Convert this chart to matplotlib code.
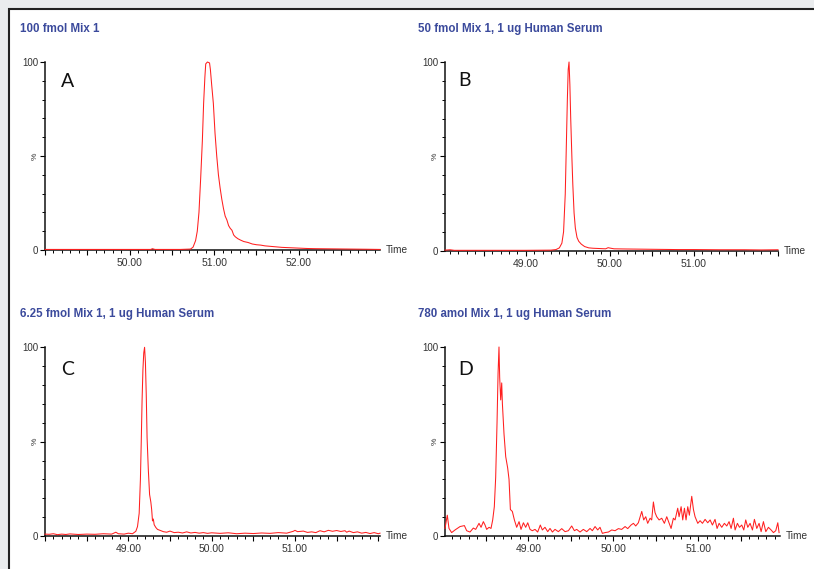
import matplotlib
matplotlib.use("Agg")
import matplotlib.pyplot as plt
from matplotlib.patches import Rectangle
from matplotlib.ticker import MultipleLocator, FixedLocator, FuncFormatter

# canvas size in pixels
W, H = 814, 569

titles = [
    "100 fmol Mix 1",
    "50 fmol Mix 1, 1 ug Human Serum",
    "6.25 fmol Mix 1, 1 ug Human Serum",
    "780 amol Mix 1, 1 ug Human Serum",
]
letters = ["A", "B", "C", "D"]
time_ranges = [(49.0, 52.96), (48.04, 52.0), (48.0, 52.02), (48.02, 51.96)]

# chromatogram A: retention time (min) / relative intensity (%)
a_time = [49.00, 49.50, 50.00, 50.25, 50.27, 50.30, 50.60, 50.72, 50.75, 50.78,
          50.80, 50.82, 50.84, 50.86, 50.875, 50.89, 50.90, 50.92, 50.945, 50.955,
          50.97, 50.99, 51.01, 51.03, 51.05, 51.07, 51.09, 51.11, 51.13, 51.15,
          51.17, 51.19, 51.21, 51.23, 51.25, 51.28, 51.31, 51.35, 51.40, 51.45,
          51.50, 51.55, 51.60, 51.70, 51.80, 51.90, 52.00, 52.10, 52.20, 52.40,
          52.60, 52.80, 52.96]
a_pct = [0.3, 0.3, 0.3, 0.3, 0.7, 0.3, 0.3, 0.5, 1.5, 5,
         10, 20, 38, 58, 78, 92, 99, 100, 99.5, 96,
         88, 78, 62, 50, 40, 33, 27, 22, 18, 16,
         13, 11.5, 10.5, 8, 7, 6, 5.3, 4.5, 4, 3.2,
         2.8, 2.6, 2.2, 1.8, 1.4, 1.2, 1.0, 0.8, 0.7, 0.6,
         0.5, 0.4, 0.3]

# chromatogram B
b_time = [48.04, 48.10, 48.15, 48.50, 49.00, 49.30, 49.36, 49.40, 49.43, 49.45,
          49.47, 49.48, 49.495, 49.505, 49.515, 49.525, 49.535, 49.55, 49.56, 49.575,
          49.59, 49.61, 49.63, 49.66, 49.70, 49.75, 49.80, 49.90, 49.95, 49.98,
          50.00, 50.05, 50.20, 50.40, 50.60, 50.80, 51.00, 51.30, 51.60, 51.80,
          52.00]
b_pct = [0.3, 0.5, 0.2, 0.2, 0.2, 0.3, 0.6, 1.5, 4, 10,
         30, 50, 80, 96, 100, 88, 70, 48, 35, 20,
         12, 7, 5, 3.5, 2.2, 1.5, 1.3, 1.1, 1.0, 1.6,
         1.4, 1.0, 0.9, 0.8, 0.7, 0.6, 0.6, 0.5, 0.5, 0.4,
         0.5]

# chromatogram C
c_time = [48.00, 48.05, 48.10, 48.15, 48.20, 48.25, 48.30, 48.40, 48.50, 48.60,
          48.70, 48.80, 48.85, 48.88, 48.95, 49.00, 49.05, 49.09, 49.11, 49.13,
          49.145, 49.155, 49.165, 49.175, 49.185, 49.195, 49.205, 49.215, 49.225, 49.24,
          49.255, 49.27, 49.28, 49.29, 49.30, 49.31, 49.33, 49.35, 49.38, 49.42,
          49.46, 49.50, 49.55, 49.60, 49.65, 49.70, 49.75, 49.80, 49.85, 49.90,
          49.95, 50.00, 50.10, 50.20, 50.30, 50.40, 50.50, 50.60, 50.70, 50.80,
          50.90, 50.98, 51.00, 51.03, 51.10, 51.15, 51.20, 51.25, 51.30, 51.35,
          51.40, 51.45, 51.50, 51.55, 51.60, 51.62, 51.65, 51.70, 51.75, 51.80,
          51.85, 51.90, 51.95, 52.00, 52.02]
c_pct = [1.0, 0.9, 1.2, 0.7, 1.0, 0.8, 1.1, 0.8, 1.0, 0.9,
         1.2, 1.0, 2.0, 1.2, 1.0, 1.5, 1.2, 2.5, 5, 12,
         30, 50, 72, 88, 97, 100, 92, 75, 52, 35,
         22, 18, 14, 8, 9, 6, 4.5, 3.5, 3, 2.3,
         2.0, 2.6, 1.8, 2.0, 1.6, 2.2, 1.6, 1.9, 1.5, 1.8,
         1.4, 1.7, 1.4, 1.7, 1.2, 1.5, 1.3, 1.6, 1.4, 1.8,
         1.5, 2.5, 3.0, 2.3, 2.6, 1.9, 2.2, 1.8, 2.8, 2.2,
         3.0, 2.5, 2.9, 2.4, 2.8, 2.0, 2.6, 1.8, 2.2, 1.5,
         1.9, 1.3, 1.8, 1.2, 1.5]

# chromatogram D
d_time = [48.020, 48.047, 48.067, 48.098, 48.138, 48.197, 48.248, 48.275, 48.314, 48.353,
          48.381, 48.420, 48.444, 48.471, 48.491, 48.510, 48.538, 48.561, 48.581, 48.600,
          48.616, 48.632, 48.644, 48.655, 48.663, 48.675, 48.687, 48.695, 48.714, 48.734,
          48.757, 48.773, 48.789, 48.812, 48.836, 48.863, 48.891, 48.914, 48.942, 48.969,
          48.993, 49.020, 49.047, 49.079, 49.110, 49.141, 49.165, 49.196, 49.228, 49.255,
          49.283, 49.314, 49.353, 49.393, 49.432, 49.471, 49.510, 49.542, 49.569, 49.608,
          49.647, 49.687, 49.726, 49.753, 49.785, 49.816, 49.843, 49.871, 49.902, 49.942,
          49.981, 50.020, 50.059, 50.098, 50.138, 50.169, 50.208, 50.236, 50.263, 50.294,
          50.334, 50.357, 50.381, 50.404, 50.432, 50.451, 50.471, 50.490, 50.510, 50.538,
          50.569, 50.600, 50.628, 50.655, 50.679, 50.706, 50.726, 50.757, 50.773, 50.797,
          50.816, 50.836, 50.855, 50.875, 50.894, 50.922, 50.942, 50.961, 50.993, 51.020,
          51.048, 51.079, 51.110, 51.138, 51.165, 51.196, 51.220, 51.244, 51.275, 51.306,
          51.334, 51.361, 51.385, 51.412, 51.432, 51.459, 51.483, 51.510, 51.534, 51.557,
          51.581, 51.608, 51.636, 51.659, 51.687, 51.714, 51.738, 51.765, 51.793, 51.824,
          51.855, 51.883, 51.910, 51.934, 51.949]
d_pct = [4, 11, 4, 1.8, 3.2, 5, 5.5, 2.8, 2.1, 4.2,
         3.5, 6.7, 4.6, 7.6, 5.8, 3.5, 4.6, 4, 8.5, 15.5,
         31, 60, 86, 100, 84, 72, 81, 70, 54, 42,
         36, 30, 14, 13, 8.5, 4.6, 7.6, 3.5, 7, 4.6,
         7, 3.5, 2.8, 3.5, 2.1, 5.8, 3.2, 4.6, 2.3, 4,
         2.1, 3.5, 2.3, 3.9, 2.3, 2.8, 5.3, 2.8, 3.5, 2.1,
         3.5, 2.3, 4, 2.8, 5, 3.2, 4.6, 1.4, 1.8, 2.1,
         3.2, 2.8, 3.9, 3.5, 5, 3.9, 5.8, 6.7, 5.3, 7,
         13, 8.5, 10.2, 6.7, 9.4, 8.5, 18, 12.4, 10.2, 8.5,
         9.4, 6.7, 10.2, 7, 4, 9.4, 8.5, 14.7, 10.2, 15.5,
         8.5, 14.7, 8.5, 15.5, 11, 21, 14, 10.2, 6.7, 8.1,
         6.7, 8.8, 7, 8.5, 5.8, 8.8, 4, 6.7, 4.6, 6.7,
         5.3, 7.6, 4, 9.4, 3.2, 6.7, 4.6, 5.8, 3.2, 8.5,
         4.6, 6.7, 3.2, 8.8, 4, 6.7, 2.3, 7.6, 2.3, 4.6,
         3.2, 1.8, 2.8, 7, 1.8]

traces = [(a_time, a_pct), (b_time, b_pct), (c_time, c_pct), (d_time, d_pct)]

# panel layout in pixels: axes box (left, top, right, bottom), title and letter anchors
boxes = [(45, 62, 380, 250), (445, 62, 778, 250.7), (45, 347.3, 380, 536), (445, 347, 780, 536)]
title_pos = [(20, 29), (418, 29), (20, 314), (418, 314)]
letter_pos = [(61, 87), (458, 86), (61, 375), (458, 375)]

TITLE_BLUE = "#3b4a9c"
TRACE_RED = "#ff1f1f"
LABEL_GREY = "#333333"

plt.rcParams["font.family"] = ["Liberation Sans", "DejaVu Sans"]

fig = plt.figure(figsize=(W / 100, H / 100), dpi=100)
fig.patch.set_facecolor("#eaecee")

# white report page with dark frame, kept behind the axes
fig.patches.append(Rectangle((9 / W, -0.1), 1.2, 1.1 - 9 / H, transform=fig.transFigure,
                             facecolor="white", edgecolor="#222222", linewidth=1.5, zorder=-5))


def make_x_label(lo, hi):
    # whole minutes only, and nothing right at the ends of the axis
    def fmt(v, _):
        if abs(v - round(v)) > 1e-6 or v < lo + 0.1 or v > hi - 0.1:
            return ""
        return f"{v:.2f}"
    return fmt


def y_label(v, _):
    return "" if abs(v - 50) < 1e-6 else f"{v:.0f}"


for (t, pct), (lo, hi), box, title, tpos, letter, lpos in zip(
        traces, time_ranges, boxes, titles, title_pos, letters, letter_pos):
    x0, y0, x1, y1 = box
    ax = fig.add_axes([x0 / W, 1 - y1 / H, (x1 - x0) / W, (y1 - y0) / H])
    ax.set_zorder(2)
    ax.patch.set_alpha(0)
    ax.plot(t, pct, color=TRACE_RED, lw=0.75, clip_on=False, zorder=3)
    ax.set_xlim(lo, hi)
    ax.set_ylim(0, 100)

    for side in ("top", "right"):
        ax.spines[side].set_visible(False)
    for side in ("left", "bottom"):
        ax.spines[side].set_linewidth(1.1)
        ax.spines[side].set_color("#111111")

    ax.xaxis.set_major_locator(MultipleLocator(0.5))
    ax.xaxis.set_minor_locator(MultipleLocator(0.1))
    ax.xaxis.set_major_formatter(FuncFormatter(make_x_label(lo, hi)))
    ax.yaxis.set_major_locator(FixedLocator([0, 50, 100]))
    ax.yaxis.set_minor_locator(MultipleLocator(10))
    ax.yaxis.set_major_formatter(FuncFormatter(y_label))

    ax.tick_params(axis="x", which="major", direction="out", length=3.8, width=0.8,
                   pad=2, labelsize=7.5, labelcolor=LABEL_GREY)
    ax.tick_params(axis="x", which="minor", direction="out", length=2.2, width=0.7)
    ax.tick_params(axis="y", which="major", direction="out", length=3.5, width=0.8,
                   pad=1.5, labelsize=7, labelcolor=LABEL_GREY)
    ax.tick_params(axis="y", which="minor", direction="out", length=2, width=0.7)

    ax.annotate("%", xy=(0, 50), xycoords=("axes fraction", "data"), xytext=(-7, 0),
                textcoords="offset points", rotation=90, ha="center", va="center",
                fontsize=6, color=LABEL_GREY)
    ax.annotate("Time", xy=(1, 0), xycoords="axes fraction", xytext=(4, 0),
                textcoords="offset points", ha="left", va="center",
                fontsize=7.3, color=LABEL_GREY)

    fig.text(tpos[0] / W, 1 - tpos[1] / H, title, ha="left", va="center",
             fontsize=8.3, fontweight="bold", color=TITLE_BLUE)
    fig.text(lpos[0] / W, 1 - lpos[1] / H, letter, ha="left", va="baseline",
             fontsize=14, family="Lato", color="#111111")

fig.savefig("out.png", dpi=100, facecolor=fig.get_facecolor())
